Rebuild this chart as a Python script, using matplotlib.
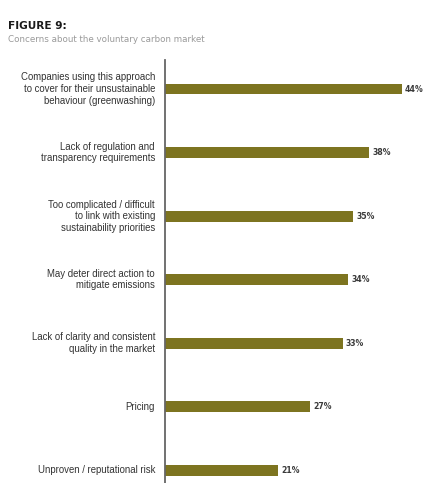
import matplotlib
matplotlib.use("Agg")
import matplotlib.pyplot as plt

categories = [
    "Companies using this approach\nto cover for their unsustainable\nbehaviour (greenwashing)",
    "Lack of regulation and\ntransparency requirements",
    "Too complicated / difficult\nto link with existing\nsustainability priorities",
    "May deter direct action to\nmitigate emissions",
    "Lack of clarity and consistent\nquality in the market",
    "Pricing",
    "Unproven / reputational risk",
]
values = [44, 38, 35, 34, 33, 27, 21]
value_labels = ["44%", "38%", "35%", "34%", "33%", "27%", "21%"]

W, H = 432, 483
fig = plt.figure(figsize=(W / 100, H / 100), dpi=100)
fig.patch.set_facecolor("white")

ax = fig.add_axes([165 / W, 0 / H, 260 / W, 423 / H])
ypos = list(range(len(values)))
ax.barh(ypos, values, height=0.17, color="#7d7420")
ax.set_xlim(0, 260 / 5.38)
ax.set_ylim(6.2, -0.457)
for s in ["top", "right", "bottom"]:
    ax.spines[s].set_visible(False)
ax.spines["left"].set_color("#666666")
ax.spines["left"].set_linewidth(1.3)
ax.set_xticks([])
ax.set_yticks([])

for y, v, lab, cat in zip(ypos, values, value_labels, categories):
    ax.text(v + 0.6, y, lab, va="center", ha="left", fontsize=5.6,
            fontweight="bold", color="#3a3a3a")
    ax.annotate(cat, xy=(0, y), xytext=(-7.2, 0), textcoords="offset points",
                xycoords="data", ha="right", va="center", fontsize=6.9,
                family="Liberation Sans", color="#333333", linespacing=1.2,
                annotation_clip=False)

fig.text(8 / W, 1 - 26 / H, "FIGURE 9:", fontsize=7.6, fontweight="heavy",
         color="#1a1a1a", va="center", ha="left")
fig.text(8 / W, 1 - 40 / H, "Concerns about the voluntary carbon market",
         fontsize=6.3, color="#9a9a9a", va="center", ha="left")

fig.savefig("out.png", dpi=100, facecolor="white")
